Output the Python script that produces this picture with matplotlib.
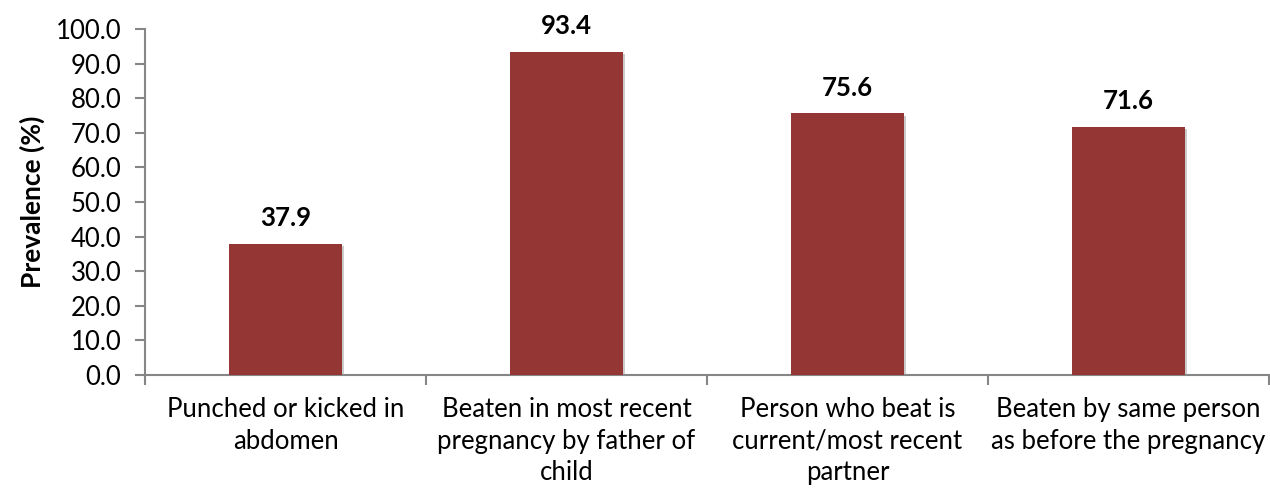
import matplotlib
matplotlib.use("Agg")
import matplotlib.pyplot as plt
import matplotlib.patheffects as pe
import numpy as np

plt.rcParams['font.family'] = ['Lato', 'DejaVu Sans']

categories = ["Punched or kicked in\nabdomen",
              "Beaten in most recent\npregnancy by father of\nchild",
              "Person who beat is\ncurrent/most recent\npartner",
              "Beaten by same person\nas before the pregnancy"]
values = [37.9, 93.4, 75.6, 71.6]
yticks = np.arange(0, 101, 10)

fig = plt.figure(figsize=(12.7, 4.88), dpi=100)
ax = fig.add_axes([145/1270, 1 - 375/488, 1 - 145/1270 - 1/1270, (375 - 29)/488])

x = np.arange(len(values))
bars = ax.bar(x, values, width=0.4, color='#943634', zorder=3)
for b in bars:
    b.set_path_effects([pe.SimplePatchShadow(offset=(1.5, -1.5), shadow_rgbFace='#999999', alpha=0.5), pe.Normal()])

for xi, v in zip(x, values):
    ax.text(xi, v + 4, f"{v:.1f}", ha='center', va='bottom', fontsize=18.5, fontweight='bold')

ax.set_xlim(-0.5, len(values) - 0.5)
ax.set_ylim(0, 100)
ax.set_yticks(yticks)
ax.set_yticklabels([f"{t:.1f}" for t in yticks], fontsize=18.5)
ax.set_xticks(x)
ax.set_xticklabels(categories, fontsize=18.5, linespacing=1.32)
ax.tick_params(axis='x', length=0, pad=16)
ax.set_xticks(np.arange(-0.5, len(values), 1), minor=True)
ax.tick_params(axis='x', which='minor', length=7, color='#868686', width=1.5)
ax.tick_params(axis='y', length=7, color='#868686', width=1.5, pad=10)

for s in ['top', 'right']:
    ax.spines[s].set_visible(False)
for s in ['left', 'bottom']:
    ax.spines[s].set_color('#868686')
    ax.spines[s].set_linewidth(1.5)

ax.set_ylabel("Prevalence (%)", fontsize=19, fontweight='bold', labelpad=8)

fig.savefig("out.png", dpi=100)
